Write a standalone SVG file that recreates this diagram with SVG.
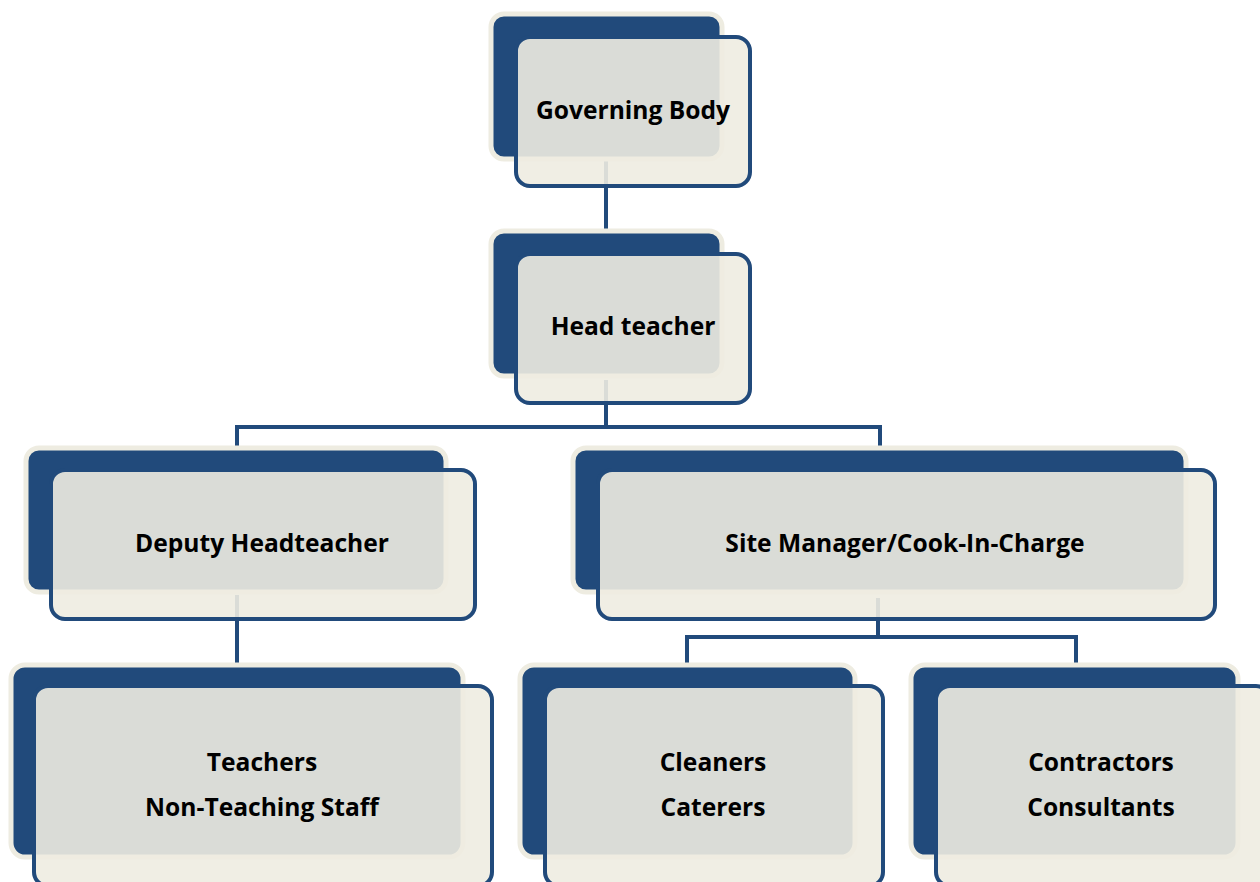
<svg xmlns="http://www.w3.org/2000/svg" width="1260" height="882" viewBox="0 0 1260 882">
<style>
.back{fill:#214a7b;stroke:#eeece1;stroke-width:5}
.front{fill:#eeece1;fill-opacity:0.9;stroke:#214a7b;stroke-width:4}
.conn{fill:none;stroke:#214a7b;stroke-width:4}
text{font-family:"Open Sans",Lato,"Liberation Sans",sans-serif;font-weight:bold;font-size:24.6px;fill:#000;text-anchor:middle}
</style>
<rect width="1260" height="882" fill="#fff"/>
<g id="connectors">
<path class="conn" d="M606 160 V240"/>
<path class="conn" d="M606 380 V427 M237 427 H880 M237 425 V455 M880 425 V455"/>
<path class="conn" d="M237 595 V672"/>
<path class="conn" d="M878 598 V637 M687 637 H1076 M687 635 V672 M1076 635 V672"/>
</g>
<g id="governing-body">
<rect class="back" x="491" y="14" width="231" height="145" rx="13"/>
<rect class="front" x="516" y="37" width="234" height="149" rx="14"/>
<text x="633" y="119">Governing Body</text>
</g>
<g id="head-teacher">
<rect class="back" x="491" y="231" width="231" height="145" rx="13"/>
<rect class="front" x="516" y="254" width="234" height="149" rx="14"/>
<text x="633" y="335">Head teacher</text>
</g>
<g id="deputy-headteacher">
<rect class="back" x="26" y="448" width="420" height="144" rx="13"/>
<rect class="front" x="51" y="470" width="424" height="149" rx="14"/>
<text x="262" y="552">Deputy Headteacher</text>
</g>
<g id="site-manager">
<rect class="back" x="573" y="448" width="613" height="144" rx="13"/>
<rect class="front" x="598" y="470" width="617" height="149" rx="14"/>
<text x="905" y="552">Site Manager/Cook-In-Charge</text>
</g>
<g id="teachers">
<rect class="back" x="11" y="665" width="452" height="192" rx="14"/>
<rect class="front" x="34" y="686" width="458" height="200" rx="14"/>
<text x="262" y="771">Teachers</text>
<text x="262" y="816">Non-Teaching Staff</text>
</g>
<g id="cleaners">
<rect class="back" x="520" y="665" width="335" height="192" rx="14"/>
<rect class="front" x="545" y="686" width="338" height="200" rx="14"/>
<text x="713" y="771">Cleaners</text>
<text x="713" y="816">Caterers</text>
</g>
<g id="contractors">
<rect class="back" x="911" y="665" width="327" height="192" rx="14"/>
<rect class="front" x="936" y="686" width="334" height="200" rx="14"/>
<text x="1101" y="771">Contractors</text>
<text x="1101" y="816">Consultants</text>
</g>
</svg>
